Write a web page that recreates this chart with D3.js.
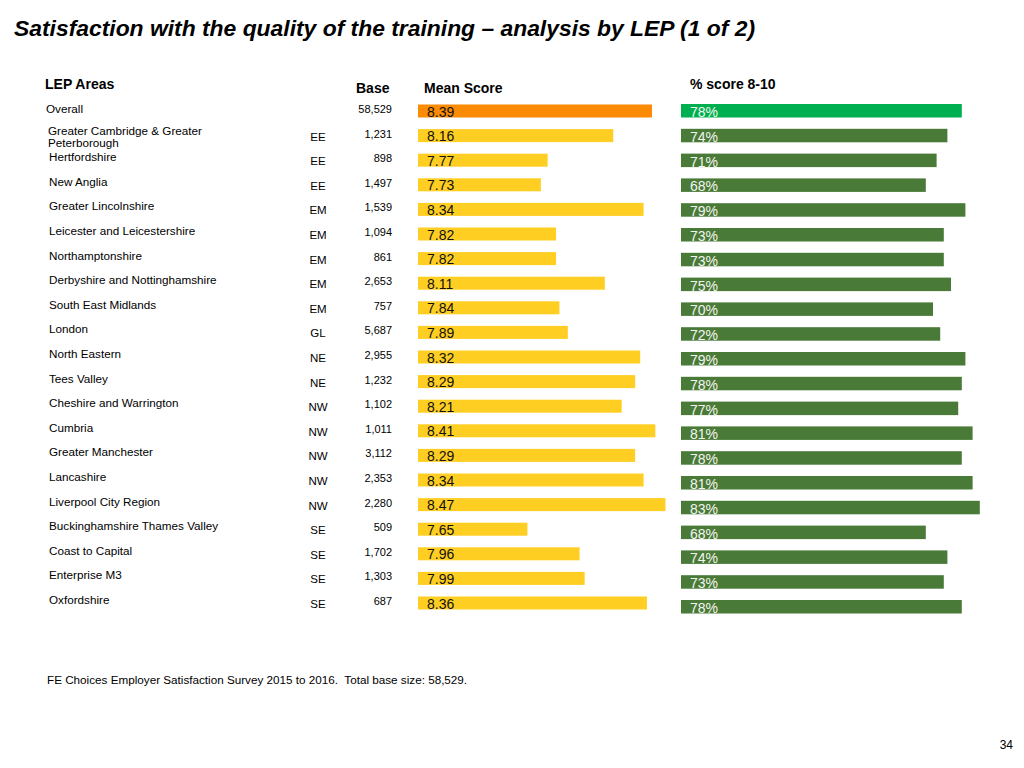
<!DOCTYPE html>
<html><head><meta charset="utf-8">
<script src="https://cdn.jsdelivr.net/npm/d3@7"></script>
<style>body{margin:0;background:#fff}svg{display:block}text{font-family:"Liberation Sans",Arial,sans-serif}</style>
</head><body>
<svg id="c" width="1024" height="768"></svg>
<script>
const names = ["Overall","Greater Cambridge & Greater|Peterborough","Hertfordshire","New Anglia","Greater Lincolnshire","Leicester and Leicestershire","Northamptonshire","Derbyshire and Nottinghamshire","South East Midlands","London","North Eastern","Tees Valley","Cheshire and Warrington","Cumbria","Greater Manchester","Lancashire","Liverpool City Region","Buckinghamshire Thames Valley","Coast to Capital","Enterprise M3","Oxfordshire"];
const regions = ["","EE","EE","EE","EM","EM","EM","EM","EM","GL","NE","NE","NW","NW","NW","NW","NW","SE","SE","SE","SE"];
const bases = [58529,1231,898,1497,1539,1094,861,2653,757,5687,2955,1232,1102,1011,3112,2353,2280,509,1702,1303,687];
const means = [8.39,8.16,7.77,7.73,8.34,7.82,7.82,8.11,7.84,7.89,8.32,8.29,8.21,8.41,8.29,8.34,8.47,7.65,7.96,7.99,8.36];
const pcts = [78,74,71,68,79,73,73,75,70,72,79,78,77,81,78,81,83,68,74,73,78];

const rows = names.map((n,i)=>({i,name:n,region:regions[i],base:bases[i],mean:means[i],pct:pcts[i]}));
const svg = d3.select("#c");
const idx = d3.range(rows.length);
const yM = d3.scaleBand().domain(idx).range([98.7,615.3]);
const yP = d3.scaleBand().domain(idx).range([98.6,619.4]);
const xM = d3.scaleLinear().domain([7,8.5]).range([418,670.5]);
const xP = d3.scaleLinear().domain([0,100]).range([681,1041]);
const fmt = d3.format(",");
const cM = i => yM(i)+yM.bandwidth()/2;
const cP = i => yP(i)+yP.bandwidth()/2;

svg.append("text").attr("x",14).attr("y",36).attr("font-size",22).attr("font-weight","bold").attr("font-style","italic")
  .attr("textLength",741).attr("lengthAdjust","spacingAndGlyphs")
  .text("Satisfaction with the quality of the training \u2013 analysis by LEP (1 of 2)");

const hdr = [["LEP Areas",45,89],["Base",356,93],["Mean Score",424,93],["% score 8-10",690,89]];
svg.selectAll("text.h").data(hdr).join("text").attr("class","h")
  .attr("x",d=>d[1]).attr("y",d=>d[2]).attr("font-size",14).attr("font-weight","bold").text(d=>d[0]);

// names
const nm = svg.selectAll("text.n").data(rows).join("text").attr("class","n")
  .attr("x",d=>d.i===0?46:49).attr("font-size",11.7).attr("fill","#000");
nm.each(function(d){
  const parts = d.name.split("|");
  const t = d3.select(this);
  if(parts.length===1){ t.attr("y",cM(d.i)+2).text(parts[0]); }
  else{
    t.append("tspan").attr("x",48).attr("y",cM(d.i)-1).text(parts[0]);
    t.append("tspan").attr("x",48).attr("y",cM(d.i)+11).text(parts[1]);
  }
});
nm.filter(d=>d.name.indexOf("|")<0 && d.i>0).attr("y",d=>cM(d.i)+1);

svg.selectAll("text.r").data(rows.filter(d=>d.region)).join("text").attr("class","r")
  .attr("x",318).attr("text-anchor","middle").attr("y",d=>cM(d.i)+5).attr("font-size",11.5).text(d=>d.region);

svg.selectAll("text.b").data(rows).join("text").attr("class","b")
  .attr("x",392).attr("text-anchor","end").attr("y",d=>cM(d.i)+2).attr("font-size",11).text(d=>fmt(d.base));

// mean bars
svg.selectAll("rect.m").data(rows).join("rect").attr("class","m")
  .attr("x",xM(7)).attr("y",d=>cM(d.i)-6.5).attr("height",13)
  .attr("width",d=>xM(d.mean)-xM(7)).attr("fill",d=>d.i===0?"#FB8A04":"#FFCE22");
svg.selectAll("text.mv").data(rows).join("text").attr("class","mv")
  .attr("x",427).attr("y",d=>cM(d.i)+5.5).attr("font-size",14).attr("fill","#111").text(d=>d.mean.toFixed(2));

// pct bars
svg.selectAll("rect.p").data(rows).join("rect").attr("class","p")
  .attr("x",xP(0)).attr("y",d=>cP(d.i)-7).attr("height",13.5)
  .attr("width",d=>xP(d.pct)-xP(0)).attr("fill",d=>d.i===0?"#00B050":"#4A7A38");
svg.selectAll("text.pv").data(rows).join("text").attr("class","pv")
  .attr("x",690).attr("y",d=>cP(d.i)+6).attr("font-size",14).attr("fill","#F2F5EE").text(d=>d.pct+"%");

svg.append("text").attr("x",47).attr("y",684).attr("font-size",11.7).attr("xml:space","preserve")
  .text("FE Choices Employer Satisfaction Survey 2015 to 2016.  Total base size: 58,529.");
svg.append("text").attr("x",1013).attr("y",749).attr("text-anchor","end").attr("font-size",12).text("34");
</script>
</body></html>
